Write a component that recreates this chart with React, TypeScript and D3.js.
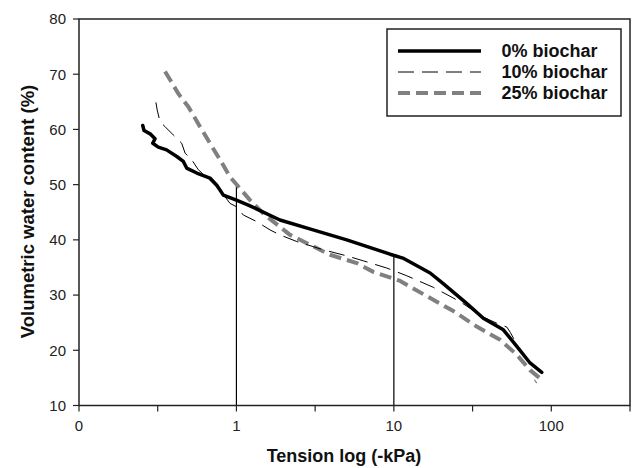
import React from "react";
import * as d3 from "d3";

const W = 633;
const H = 468;

// 0% biochar [tension kPa, volumetric water content %]
const tension0 = [0.254, 0.259, 0.283, 0.304, 0.294, 0.319, 0.36, 0.418, 0.46, 0.483, 0.56, 0.679, 0.75, 0.826, 1.0, 1.19, 1.89, 3.07, 5.02, 9.46, 11.4, 17.0, 20.5, 29.0, 37.0, 49.6, 60.4, 73.3, 87.0];
const water0 = [60.7, 59.8, 59.2, 58.3, 57.5, 56.8, 56.3, 55.1, 54.2, 53.0, 52.1, 51.2, 49.9, 48.1, 47.2, 46.3, 43.6, 41.8, 40.0, 37.4, 36.7, 34.0, 32.1, 28.5, 25.8, 23.7, 20.7, 17.7, 16.0];

// 10% biochar
const tension10 = [0.308, 0.314, 0.327, 0.352, 0.397, 0.449, 0.472, 0.52, 0.573, 0.679, 0.787, 0.911, 1.0, 1.106, 1.346, 1.635, 1.89, 2.416, 3.565, 5.02, 6.4, 9.01, 12.08, 17.82, 26.35, 37.0, 45.1, 52.2, 55.0, 62.0, 72.0];
const water10 = [64.9, 63.5, 61.4, 60.5, 59.0, 57.5, 55.7, 54.5, 52.7, 50.8, 49.0, 46.6, 46.0, 44.5, 43.3, 41.8, 40.9, 39.7, 38.2, 37.1, 36.2, 34.9, 33.5, 31.4, 28.8, 26.0, 24.9, 24.2, 23.2, 20.5, 18.0];

// 25% biochar
const tension25 = [0.352, 0.379, 0.427, 0.495, 0.587, 0.679, 0.787, 0.911, 1.054, 1.22, 1.48, 1.716, 2.19, 2.8, 3.93, 5.81, 7.41, 10.9, 16.2, 23.9, 33.6, 47.3, 60.4, 73.3, 84.9, 78.9];
const water25 = [70.5, 69.0, 66.5, 64.1, 60.5, 57.5, 54.5, 51.4, 49.3, 47.2, 44.8, 43.3, 40.9, 39.4, 37.3, 35.8, 34.2, 32.6, 29.8, 27.1, 24.3, 21.9, 19.2, 16.4, 14.9, 14.3];

const seriesNames = ["0% biochar", "10% biochar", "25% biochar"];

const xTicks = [0.1, 0.3162, 1, 3.162, 10, 31.62, 100, 316.2];
const xTickLabels: Record<string, string> = { "0.1": "0", "1": "1", "10": "10", "100": "100" };
const yTicks = [10, 20, 30, 40, 50, 60, 70, 80];

// reference vertical lines [tension, top water content]
const refLineX = [1, 10];
const refLineTop = [49.8, 37.3];

const FONT = "Arial, 'Liberation Sans', Helvetica, sans-serif";

export default function App() {
  const left = 79, right = 630, top = 19, bottom = 405.5;
  const x = d3.scaleLog().domain([0.1, 316.2]).range([left, right]);
  const y = d3.scaleLinear().domain([10, 80]).range([bottom, top]);

  const line = d3
    .line<[number, number]>()
    .x((d) => x(d[0]))
    .y((d) => y(d[1]))
    .curve(d3.curveLinear);

  const s0 = tension0.map((t, i) => [t, water0[i]] as [number, number]);
  const s10 = tension10.map((t, i) => [t, water10[i]] as [number, number]);
  const s25 = tension25.map((t, i) => [t, water25[i]] as [number, number]);

  const styles = [
    { stroke: "#000", width: 3.5, dash: undefined as string | undefined },
    { stroke: "#000", width: 1, dash: "16 8" },
    { stroke: "#808080", width: 4, dash: "12 6" },
  ];

  const legX = 387, legY = 29, legW = 234, legH = 87;
  const rowY = [51, 72, 93];

  return (
    <svg
      width={W}
      height={H}
      style={{ position: "absolute", left: 0, top: 0, background: "#fff" }}
      fontFamily={FONT}
    >
      <rect x={0} y={0} width={W} height={H} fill="#fff" />

      {/* reference vertical lines */}
      {refLineX.map((v, i) => (
        <line key={"rl" + i} x1={x(v)} x2={x(v)} y1={y(10)} y2={y(refLineTop[i])} stroke="#000" strokeWidth={1.2} />
      ))}

      {/* series */}
      <path d={line(s25) || ""} fill="none" stroke={styles[2].stroke} strokeWidth={styles[2].width} strokeDasharray={styles[2].dash} strokeLinejoin="round" />
      <path d={line(s10) || ""} fill="none" stroke={styles[1].stroke} strokeWidth={styles[1].width} strokeDasharray={styles[1].dash} />
      <path d={line(s0) || ""} fill="none" stroke={styles[0].stroke} strokeWidth={styles[0].width} strokeLinejoin="round" strokeLinecap="round" />

      {/* frame */}
      <rect x={left} y={top} width={right - left} height={bottom - top} fill="none" stroke="#222" strokeWidth={1.5} />

      {/* y axis ticks */}
      {yTicks.map((t) => (
        <g key={"y" + t}>
          <line x1={left - 6} x2={left} y1={y(t)} y2={y(t)} stroke="#222" strokeWidth={1.2} />
          <text x={left - 13} y={y(t)} dy="0.36em" textAnchor="end" fontSize={15} fill="#222">
            {t}
          </text>
        </g>
      ))}

      {/* x axis ticks */}
      {xTicks.map((t) => (
        <g key={"x" + t}>
          <line x1={x(t)} x2={x(t)} y1={bottom} y2={bottom + 6} stroke="#222" strokeWidth={1.2} />
          {xTickLabels[String(t)] !== undefined && (
            <text x={x(t)} y={bottom + 25} textAnchor="middle" fontSize={15} fill="#222">
              {xTickLabels[String(t)]}
            </text>
          )}
        </g>
      ))}

      {/* axis titles */}
      <text x={344} y={462} textAnchor="middle" fontSize={18} fontWeight="bold" fill="#111">
        Tension log (-kPa)
      </text>
      <text
        transform={`translate(34, ${211.5}) rotate(-90)`}
        textAnchor="middle"
        fontSize={18.5}
        fontWeight="bold"
        fill="#111"
      >
        Volumetric water content (%)
      </text>

      {/* legend */}
      <rect x={legX} y={legY} width={legW} height={legH} fill="#fff" stroke="#222" strokeWidth={1.5} />
      {seriesNames.map((n, i) => (
        <g key={n}>
          <line
            x1={398}
            x2={481}
            y1={rowY[i]}
            y2={rowY[i]}
            stroke={styles[i].stroke}
            strokeWidth={styles[i].width}
            strokeDasharray={styles[i].dash}
          />
          <text x={501.5} y={rowY[i]} dy="0.36em" fontSize={18} fontWeight="bold" fill="#111">
            {n}
          </text>
        </g>
      ))}
    </svg>
  );
}
